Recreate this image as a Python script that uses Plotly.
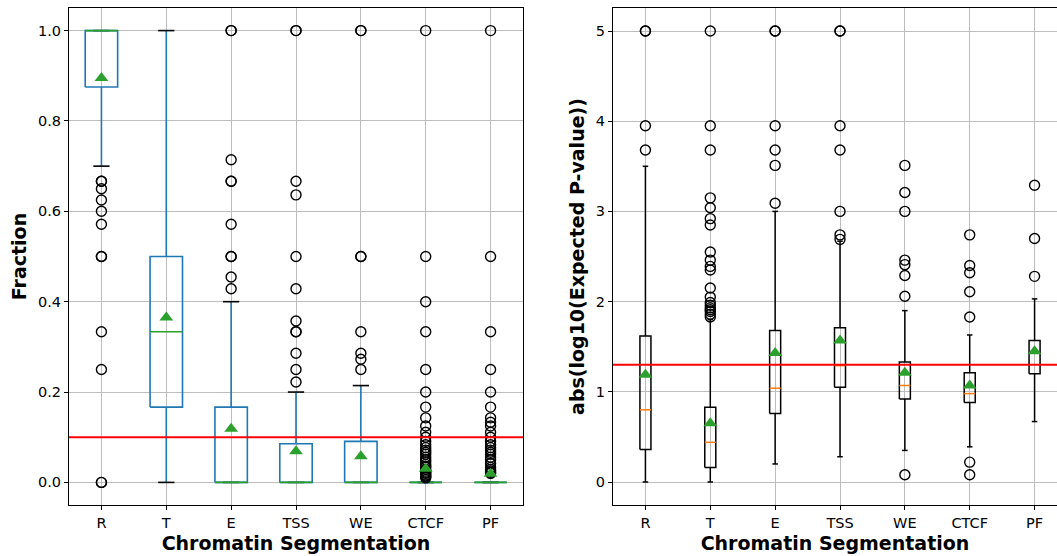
import plotly.graph_objects as go

# ---------------- data ----------------
cats = ["R", "T", "E", "TSS", "WE", "CTCF", "PF"]

# Left panel: Fraction
frac_q1 = [0.875, 0.1667, 0.0, 0.0, 0.0, 0.0, 0.0]
frac_med = [1.0, 0.3333, 0.0, 0.0, 0.0, 0.0, 0.0]
frac_q3 = [1.0, 0.5, 0.1667, 0.0857, 0.0909, 0.0, 0.0]
frac_lo = [0.7, 0.0, 0.0, 0.0, 0.0, 0.0, 0.0]
frac_hi = [1.0, 1.0, 0.4, 0.2, 0.2143, 0.0, 0.0]
frac_mean = [0.895, 0.365, 0.119, 0.069, 0.058, 0.030, 0.019]
frac_out = [
    [0.6667, 0.6667, 0.65, 0.625, 0.6, 0.5714, 0.5, 0.5, 0.3333, 0.25, 0.0, 0.0],
    [],
    [1.0, 1.0, 0.7143, 0.6667, 0.6667, 0.5714, 0.5, 0.5, 0.4545, 0.4286],
    [1.0, 1.0, 0.6667, 0.6364, 0.5, 0.4286, 0.3571, 0.3333, 0.3333, 0.2857, 0.25, 0.2222],
    [1.0, 1.0, 0.5, 0.5, 0.3333, 0.2857, 0.2727, 0.25],
    [1.0, 0.5, 0.4, 0.3333, 0.25, 0.2, 0.1667, 0.1429, 0.125, 0.1111, 0.1, 0.0909,
     0.0833, 0.0769, 0.0714, 0.0667, 0.0625, 0.0556, 0.05, 0.0455, 0.04, 0.0357,
     0.0333, 0.0286, 0.025, 0.0222, 0.02, 0.0167, 0.0143, 0.0125, 0.01],
    [1.0, 0.5, 0.3333, 0.25, 0.2, 0.1667, 0.1429, 0.1333, 0.125, 0.1111, 0.1, 0.0909,
     0.0833, 0.0769, 0.0714, 0.0667, 0.0625, 0.0556, 0.05, 0.0417, 0.0333, 0.0286,
     0.025, 0.0222, 0.02],
]
frac_threshold = 0.1

# Right panel: abs(log10(Expected P-value))
p_q1 = [0.36, 0.16, 0.76, 1.05, 0.92, 0.88, 1.20]
p_med = [0.80, 0.44, 1.04, 1.29, 1.07, 0.98, 1.43]
p_q3 = [1.62, 0.83, 1.68, 1.71, 1.33, 1.21, 1.57]
p_lo = [0.0, 0.0, 0.20, 0.28, 0.35, 0.39, 0.67]
p_hi = [3.50, 1.80, 3.0, 2.67, 1.90, 1.63, 2.03]
p_mean = [1.19, 0.65, 1.43, 1.57, 1.21, 1.07, 1.45]
p_out = [
    [5.0, 5.0, 3.95, 3.68],
    [5.0, 3.95, 3.68, 3.15, 3.04, 2.92, 2.85, 2.55, 2.46, 2.39, 2.35, 2.15, 2.05,
     1.99, 1.96, 1.93, 1.91, 1.89, 1.86, 1.83],
    [5.0, 5.0, 3.95, 3.68, 3.51, 3.09],
    [5.0, 5.0, 3.95, 3.68, 3.0, 2.74, 2.69],
    [3.51, 3.21, 3.0, 2.46, 2.41, 2.29, 2.06, 0.08],
    [2.74, 2.40, 2.32, 2.11, 1.83, 0.22, 0.08],
    [3.29, 2.70, 2.28],
]
p_threshold = 1.3

# ---------------- styling ----------------
FONT = "DejaVu Sans"
BLUE = "#1f77b4"
GREEN = "#2ca02c"
ORANGE = "#ff7f0e"
GRID = "#bdbdbd"

fig = go.Figure()


def add_boxes(xa, ya, q1, med, q3, lo, hi, mean, outs, width, box_color, med_color, lw):
    pos = list(range(1, len(cats) + 1))
    hw = width / 2.0
    cw = width / 4.0
    # whiskers
    wx, wy = [], []
    for p, a, b, l, h in zip(pos, q1, q3, lo, hi):
        wx += [p, p, None, p, p, None]
        wy += [a, l, None, b, h, None]
    fig.add_trace(go.Scatter(x=wx, y=wy, mode="lines", xaxis=xa, yaxis=ya,
                             line=dict(color=box_color, width=lw), hoverinfo="skip",
                             showlegend=False))
    # caps
    cx, cy = [], []
    for p, l, h in zip(pos, lo, hi):
        cx += [p - cw, p + cw, None, p - cw, p + cw, None]
        cy += [l, l, None, h, h, None]
    fig.add_trace(go.Scatter(x=cx, y=cy, mode="lines", xaxis=xa, yaxis=ya,
                             line=dict(color="black", width=lw), hoverinfo="skip",
                             showlegend=False))
    # boxes
    bx, by = [], []
    for p, a, b in zip(pos, q1, q3):
        bx += [p - hw, p + hw, p + hw, p - hw, p - hw, None]
        by += [a, a, b, b, a, None]
    fig.add_trace(go.Scatter(x=bx, y=by, mode="lines", xaxis=xa, yaxis=ya,
                             line=dict(color=box_color, width=lw), hoverinfo="skip",
                             showlegend=False))
    # medians
    mx, my = [], []
    for p, m in zip(pos, med):
        mx += [p - hw, p + hw, None]
        my += [m, m, None]
    fig.add_trace(go.Scatter(x=mx, y=my, mode="lines", xaxis=xa, yaxis=ya,
                             line=dict(color=med_color, width=lw), hoverinfo="skip",
                             showlegend=False))
    # fliers
    fx, fy = [], []
    for p, o in zip(pos, outs):
        fx += [p] * len(o)
        fy += o
    fig.add_trace(go.Scatter(x=fx, y=fy, mode="markers", xaxis=xa, yaxis=ya,
                             marker=dict(symbol="circle-open", size=10, color="black",
                                         line=dict(width=1.4, color="black")),
                             hoverinfo="skip", showlegend=False))
    # means
    fig.add_trace(go.Scatter(x=pos, y=mean, mode="markers", xaxis=xa, yaxis=ya,
                             marker=dict(symbol="triangle-up", size=12, color=GREEN,
                                         line=dict(width=0)),
                             hoverinfo="skip", showlegend=False))


add_boxes("x", "y", frac_q1, frac_med, frac_q3, frac_lo, frac_hi, frac_mean, frac_out,
          0.5, BLUE, GREEN, 1.6)
add_boxes("x2", "y2", p_q1, p_med, p_q3, p_lo, p_hi, p_mean, p_out,
          0.17, "black", ORANGE, 1.5)

W, H = 1057, 556
ML, MR, MT, MB = 69, 0, 8, 51
pw = W - ML - MR
left_end = (523 - ML) / pw
right_start = (613 - ML) / pw
px_per_unit = (523 - 69) / 7.0
right_range_end = 0.5 + (W - 613) / px_per_unit

tickfont = dict(family=FONT, size=14.5, color="black")
titlefont = dict(family=FONT, size=19, color="black", weight="bold")

axis_common = dict(showgrid=True, gridcolor=GRID, gridwidth=1, zeroline=False,
                   showline=True, linecolor="black", linewidth=1.2,
                   ticks="outside", ticklen=4, tickcolor="black", tickwidth=1,
                   tickfont=tickfont)

fig.update_layout(
    width=W, height=H,
    margin=dict(l=ML, r=MR, t=MT, b=MB, pad=0),
    paper_bgcolor="white", plot_bgcolor="white",
    showlegend=False,
    xaxis=dict(domain=[0, left_end], range=[0.5, 7.5], tickvals=list(range(1, 8)),
               ticktext=cats, mirror=True,
               title=dict(text="Chromatin Segmentation", font=titlefont, standoff=7),
               **axis_common),
    yaxis=dict(range=[-0.05, 1.05], tickvals=[0, 0.2, 0.4, 0.6, 0.8, 1.0],
               ticktext=["0.0", "0.2", "0.4", "0.6", "0.8", "1.0"], mirror=True,
               title=dict(text="Fraction", font=titlefont, standoff=6),
               **axis_common),
    xaxis2=dict(domain=[right_start, 1], range=[0.5, right_range_end],
                tickvals=list(range(1, 8)), ticktext=cats, mirror=True, anchor="y2",
                title=dict(text="Chromatin Segmentation", font=titlefont, standoff=7),
                **axis_common),
    yaxis2=dict(range=[-0.255, 5.255], tickvals=[0, 1, 2, 3, 4, 5], mirror=False,
                anchor="x2",
                title=dict(text="abs(log10(Expected P-value))", font=titlefont, standoff=6),
                **axis_common),
    shapes=[
        dict(type="line", xref="x domain", yref="y", x0=0, x1=1,
             y0=frac_threshold, y1=frac_threshold, line=dict(color="red", width=2)),
        dict(type="line", xref="x2 domain", yref="y2", x0=0, x1=1,
             y0=p_threshold, y1=p_threshold, line=dict(color="red", width=2)),
    ],
)

fig.write_html("out.html")
